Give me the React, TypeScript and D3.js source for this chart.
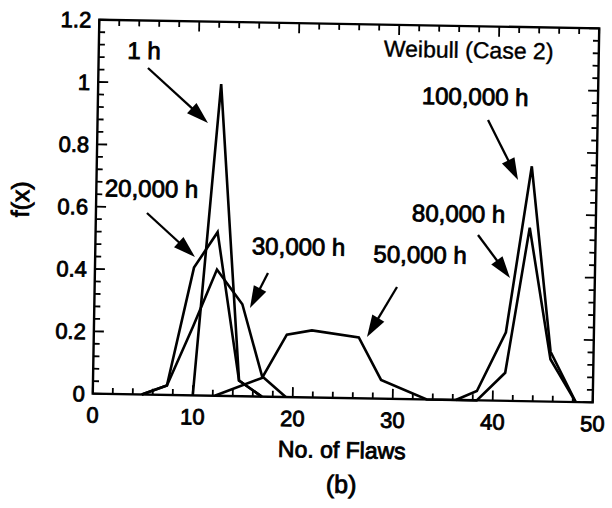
import React from 'react';
import * as d3 from 'd3';

// ---- data ----
const xTickValues = [0, 10, 20, 30, 40, 50];
const xTickLabels = ['0', '10', '20', '30', '40', '50'];
const yTickValues = [0, 0.2, 0.4, 0.6, 0.8, 1, 1.2];
const yTickLabels = ['0', '0.2', '0.4', '0.6', '0.8', '1', '1.2'];

const x1h = [10.0, 12.3, 14.6, 16.9];
const y1h = [0, 1.0, 0.05, 0];

const x20k = [4.9, 7.4, 9.9, 12.2, 14.6, 16.9];
const y20k = [0, 0.03, 0.41, 0.525, 0.05, 0];

const x30k = [4.9, 7.4, 9.9, 12.2, 14.8, 16.9, 19.3];
const y30k = [0, 0.03, 0.22, 0.405, 0.295, 0.065, 0];

const x50k = [12.2, 16.9, 19.3, 21.8, 26.5, 28.8, 33.4, 36.3];
const y50k = [0, 0.06, 0.2, 0.215, 0.195, 0.06, 0, 0];

const x80k = [36.3, 38.4, 41.2, 43.4, 45.7, 48.3];
const y80k = [0, 0, 0.09, 0.557, 0.136, 0];

const x100k = [36.3, 38.4, 41.2, 43.5, 45.7, 48.3];
const y100k = [0, 0.03, 0.22, 0.754, 0.16, 0];

const seriesX = [x1h, x20k, x30k, x50k, x80k, x100k];
const seriesY = [y1h, y20k, y30k, y50k, y80k, y100k];

// annotation labels: text, centre x, baseline y (page pixels as seen)
const labelTexts = ['1 h', '20,000 h', '30,000 h', '50,000 h', '80,000 h', '100,000 h', 'Weibull (Case 2)'];
const labelCx = [144, 151.5, 298.5, 420, 458.5, 475, 468.5];
const labelBase = [59, 197, 255, 263, 222, 105, 58];

// arrows: start -> tip (page pixels as seen)
const arrowFrom = [[148, 68], [147, 213], [268, 273], [397, 287], [478, 235], [488, 120]];
const arrowTo = [[208, 123], [195, 257], [250, 308], [367, 337], [510, 278], [518, 180]];

// ---- layout ----
const W = 612, H = 508;
const L = 96, R = 596, T = 24, B = 398;
const ROT = 1.0; // scan tilt, degrees
const CX = 345, CY = 211;
const S = Math.sin((ROT * Math.PI) / 180);
const unrot = (p: number[]) => [p[0] + (p[1] - CY) * S, p[1] - (p[0] - CX) * S];

const FONT = '"Liberation Sans", Arial, Helvetica, sans-serif';
const TXT_STROKE = 0.85;

export default function App() {
  const x = d3.scaleLinear().domain([0, 50]).range([L, R]);
  const y = d3.scaleLinear().domain([0, 1.2]).range([B, T]);
  const line = d3.line<[number, number]>().x(d => x(d[0])).y(d => y(d[1]));

  const xMinor = d3.range(0, 50.001, 2);
  const yMinor = d3.range(0, 1.2001, 0.04);
  const isMajorX = (v: number) => Math.abs(v / 10 - Math.round(v / 10)) < 1e-6;
  const isMajorY = (v: number) => Math.abs(v / 0.2 - Math.round(v / 0.2)) < 1e-6;

  const tickW = 1.8;
  const majorLen = 10, minorLen = 6;

  const arrowHead = (a: number[], b: number[]) => {
    const dx = b[0] - a[0], dy = b[1] - a[1];
    const len = Math.hypot(dx, dy);
    const ux = dx / len, uy = dy / len;
    const hl = 22, hw = 7;
    const bx = b[0] - ux * hl, by = b[1] - uy * hl;
    return {
      pts: `${b[0]},${b[1]} ${bx - uy * hw},${by + ux * hw} ${bx + uy * hw},${by - ux * hw}`,
      base: [bx + ux * 2, by + uy * 2],
    };
  };

  const txt = { fill: '#000', stroke: '#000', strokeWidth: TXT_STROKE };

  return (
    <svg width={W} height={H} style={{ position: 'absolute', left: 0, top: 0, background: '#fff' }}
      fontFamily={FONT}>
      <rect x={0} y={0} width={W} height={H} fill="#fff" />
      <g transform={`rotate(${ROT}, ${CX}, ${CY})`}>
        {/* frame */}
        <rect x={L} y={T} width={R - L} height={B - T} fill="none" stroke="#000" strokeWidth={2.4} />
        {/* x ticks bottom & top */}
        {xMinor.map((v, i) => {
          const len = isMajorX(v) ? majorLen : minorLen;
          return (
            <g key={'xt' + i} stroke="#000" strokeWidth={tickW}>
              <line x1={x(v)} x2={x(v)} y1={B} y2={B - len} />
              <line x1={x(v)} x2={x(v)} y1={T} y2={T + len} />
            </g>
          );
        })}
        {/* y ticks left & right */}
        {yMinor.map((v, i) => {
          const len = isMajorY(v) ? majorLen : minorLen;
          return (
            <g key={'yt' + i} stroke="#000" strokeWidth={tickW}>
              <line x1={L} x2={L + len} y1={y(v)} y2={y(v)} />
              <line x1={R} x2={R - len} y1={y(v)} y2={y(v)} />
            </g>
          );
        })}
        {/* tick labels */}
        {xTickValues.map((v, i) => (
          <text key={'xl' + i} x={x(v)} y={B + 29} fontSize={22} textAnchor="middle" {...txt}>{xTickLabels[i]}</text>
        ))}
        {yTickValues.map((v, i) => (
          <text key={'yl' + i} x={L - 8} y={y(v) + 8} fontSize={22} textAnchor="end" {...txt}>{yTickLabels[i]}</text>
        ))}
        {/* axis titles */}
        <text x={346} y={458} fontSize={23} textAnchor="middle" {...txt}>No. of Flaws</text>
        <text x={346} y={493} fontSize={25} textAnchor="middle" {...txt}>(b)</text>
        <text transform={`translate(29, 205) rotate(-90)`} fontSize={25} textAnchor="middle" {...txt}>f(x)</text>
        {/* series */}
        {seriesX.map((xs, i) => (
          <path key={'s' + i} d={line(xs.map((xv, j) => [xv, seriesY[i][j]] as [number, number])) || ''}
            fill="none" stroke="#000" strokeWidth={2.6} strokeLinejoin="miter" />
        ))}
        {/* labels */}
        {labelTexts.map((t, i) => {
          const p = unrot([labelCx[i], labelBase[i]]);
          return (
            <text key={'lb' + i} x={p[0]} y={p[1]} fontSize={i === 6 ? 23 : 24} textAnchor="middle"
              fill="#000" stroke="#000" strokeWidth={i === 6 ? 0.4 : TXT_STROKE}>{t}</text>
          );
        })}
        {/* arrows */}
        {arrowFrom.map((a0, i) => {
          const a = unrot(a0), b = unrot(arrowTo[i]);
          const h = arrowHead(a, b);
          return (
            <g key={'ar' + i}>
              <line x1={a[0]} y1={a[1]} x2={h.base[0]} y2={h.base[1]} stroke="#000" strokeWidth={2.3} />
              <polygon points={h.pts} fill="#000" />
            </g>
          );
        })}
      </g>
    </svg>
  );
}
